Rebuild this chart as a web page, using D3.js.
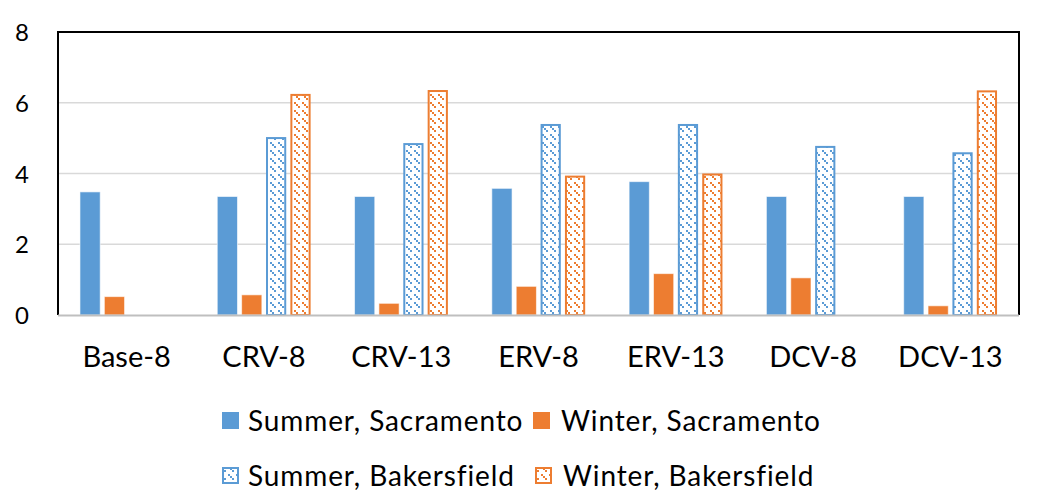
<!DOCTYPE html>
<html><head><meta charset="utf-8">
<script src="https://cdn.jsdelivr.net/npm/d3@7"></script>
<style>body{margin:0;background:#fff}svg{display:block}</style>
</head><body>
<svg id="c" width="1039" height="491"></svg>
<script>
const categories = ["Base-8","CRV-8","CRV-13","ERV-8","ERV-13","DCV-8","DCV-13"];
const seriesNames = ["Summer, Sacramento","Winter, Sacramento","Summer, Bakersfield","Winter, Bakersfield"];
const summerSacramento = [3.48,3.35,3.35,3.58,3.77,3.35,3.35];
const winterSacramento = [0.52,0.57,0.33,0.81,1.17,1.05,0.26];
const summerBakersfield = [0,5.03,4.86,5.40,5.40,4.78,4.60];
const winterBakersfield = [0,6.25,6.36,3.94,4.00,0,6.35];
const yTicks = [0,2,4,6,8];

const seriesValues = [summerSacramento, winterSacramento, summerBakersfield, winterBakersfield];
const colors = ["#5B9BD5","#ED7D31","#5B9BD5","#ED7D31"];
const hatched = [false,false,true,true];

const svg = d3.select("#c");
const L=58, R=1019, T=32, B=315;
const font = "Lato, 'Open Sans', sans-serif";

const defs = svg.append("defs");
["blue","orange"].forEach((n,i)=>{
  const col = i===0 ? colors[0] : colors[1];
  const p = defs.append("pattern").attr("id","hatch-"+n).attr("patternUnits","userSpaceOnUse")
    .attr("width",8).attr("height",8);
  p.append("rect").attr("width",8).attr("height",8).attr("fill","#fff");
  [[0,0],[2,2]].forEach(([x,y])=>p.append("rect").attr("x",x).attr("y",y).attr("width",2).attr("height",2).attr("fill",col));
  [[4,4],[6,6]].forEach(([x,y])=>p.append("rect").attr("x",x).attr("y",y).attr("width",2).attr("height",2).attr("fill",col).attr("opacity",x===4?0:1));
});

const x0 = d3.scaleBand().domain(categories).range([L,R]).paddingInner(0.32).paddingOuter(0.16);
const x1 = d3.scaleBand().domain(d3.range(4)).range([0,x0.bandwidth()]).paddingInner(0.17);
const y = d3.scaleLinear().domain([0,8]).range([B,T]);

// gridlines
svg.append("g").selectAll("line").data(yTicks.filter(t=>t>0 && t<8)).join("line")
  .attr("x1",L).attr("x2",R).attr("y1",d=>y(d)).attr("y2",d=>y(d))
  .attr("stroke","#d9d9d9").attr("stroke-width",1.5);

// bars
const gBars = svg.append("g");
seriesValues.forEach((vals,s)=>{
  gBars.append("g").selectAll("rect").data(vals.map((v,i)=>({v,c:categories[i]})).filter(d=>d.v>0)).join("rect")
    .attr("x",d=>x0(d.c)+x1(s)+(hatched[s]?1:0))
    .attr("width",x1.bandwidth()-(hatched[s]?2:0))
    .attr("y",d=>y(d.v)+(hatched[s]?1:0))
    .attr("height",d=>y(0)-y(d.v)-(hatched[s]?1:0))
    .attr("fill",hatched[s] ? (s===2?"url(#hatch-blue)":"url(#hatch-orange)") : colors[s])
    .attr("stroke",hatched[s]?colors[s]:"#ffffff")
    .attr("stroke-opacity",hatched[s]?1:0.6)
    .attr("stroke-width",hatched[s]?2:1);
});

// plot frame
svg.append("path").attr("d",`M${L},${B}V${T}H${R}V${B}`).attr("fill","none").attr("stroke","#000").attr("stroke-width",2);
// x axis line
svg.append("line").attr("x1",L).attr("x2",R).attr("y1",B+0.5).attr("y2",B+0.5).attr("stroke","#bfbfbf").attr("stroke-width",2);

// y axis labels
const yAxis = d3.axisLeft(y).tickValues(yTicks).tickSize(0).tickPadding(0).tickFormat(d3.format("d"));
const ga = svg.append("g").attr("transform",`translate(${L-29},0)`).call(yAxis);
ga.select(".domain").remove();
ga.selectAll("text").attr("font-family",font).attr("font-size",24).attr("fill","#000").attr("dy","0.36em").attr("text-anchor","end");

// x axis labels
const xAxis = d3.axisBottom(x0).tickSize(0).tickPadding(0);
const gx = svg.append("g").attr("transform",`translate(0,367)`).call(xAxis);
gx.select(".domain").remove();
gx.selectAll("text").attr("font-family",font).attr("font-size",29).attr("fill","#000").attr("y",0).attr("dy",0);

// legend
const legendPos = [[222,421],[533,421],[222,476],[535,476]];
seriesNames.forEach((n,s)=>{
  const [lx,ly] = legendPos[s];
  const g = svg.append("g").attr("transform",`translate(${lx},${ly})`);
  if(hatched[s]){
    g.append("rect").attr("x",1).attr("y",-8).attr("width",15).attr("height",15)
      .attr("fill",s===2?"url(#hatch-blue)":"url(#hatch-orange)").attr("stroke",colors[s]).attr("stroke-width",2);
  } else {
    g.append("rect").attr("x",0).attr("y",-9).attr("width",17).attr("height",17).attr("fill",colors[s]);
  }
  g.append("text").attr("x",s%2===0?26:28).attr("y",0).attr("dy","0.36em").attr("font-family",font).attr("font-size",28).attr("letter-spacing",0.9).attr("fill","#000").text(n);
});
</script>
</body></html>
